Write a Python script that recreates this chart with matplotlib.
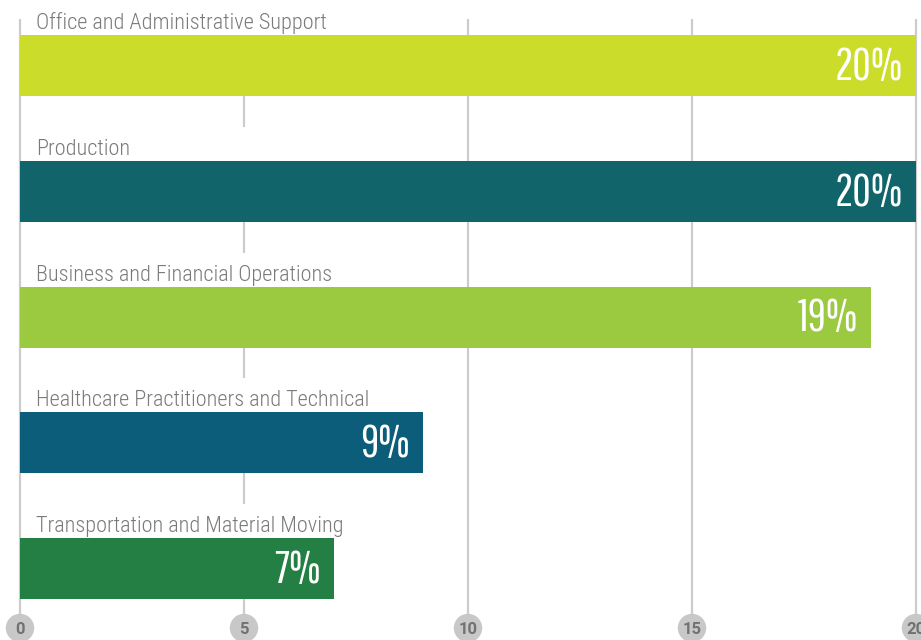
import matplotlib
matplotlib.use("Agg")
import matplotlib.pyplot as plt
from matplotlib.patches import Rectangle

categories = [
    "Office and Administrative Support",
    "Production",
    "Business and Financial Operations",
    "Healthcare Practitioners and Technical",
    "Transportation and Material Moving",
]
values = [20, 20, 19, 9, 7]
value_labels = ["20%", "20%", "19%", "9%", "7%"]
xticks = [0, 5, 10, 15, 20]

bar_colors = ["#cbdc2a", "#10646a", "#9bc93f", "#0b5d7a", "#247f45"]

LABEL_FONT = dict(family=["Roboto Condensed", "DejaVu Sans"], weight=300)
VALUE_FONT = dict(family=["Pathway Gothic One", "Roboto Condensed", "DejaVu Sans"], weight=400)
TICK_FONT = dict(family=["Roboto", "DejaVu Sans"], weight=700)

W, H = 921, 640
fig = plt.figure(figsize=(W / 100, H / 100), dpi=100)
ax = fig.add_axes([0, 0, 1, 1])
renderer = fig.canvas.get_renderer()


def fit_size(text, target_px, base, **font):
    t = fig.text(0, 0, text, fontsize=base, **font)
    w = t.get_window_extent(renderer).width
    t.remove()
    return base * target_px / w


label_size = fit_size(categories[0], 291, 15, **LABEL_FONT)
value_size = fit_size("20%", 68, 30, **VALUE_FONT)

px_per_x = 44.8
x0_px = 20
row_px = 125.75
first_center_px = 65.5
ax.set_xlim(-x0_px / px_per_x, (W - x0_px) / px_per_x)
ax.set_ylim((H - first_center_px) / row_px, -first_center_px / row_px)
ax.axis("off")

bar_h = 61 / row_px
top_grid = (19 - first_center_px) / row_px
bot_grid = (614 - first_center_px) / row_px
tick_y = (628 - first_center_px) / row_px

# gridlines
for t in xticks:
    ax.plot([t, t], [top_grid, bot_grid], color="#cccccc", lw=1.6, zorder=1,
            solid_capstyle="butt")

ypos = list(range(len(categories)))
ax.barh(ypos, values, height=bar_h, color=bar_colors, zorder=3, left=0)

label_gap = 34 / row_px
for i, (cat, v, vl) in enumerate(zip(categories, values, value_labels)):
    top = i - bar_h / 2
    # white band behind category label hides nearby gridlines
    ax.add_patch(Rectangle((0.1, top - label_gap), 8.5, label_gap,
                           facecolor="white", edgecolor="none", zorder=2))
    ax.text(16 / px_per_x, top - 6 / row_px, cat, fontsize=label_size,
            color="#7a7a7a", va="baseline", ha="left", zorder=4, **LABEL_FONT)
    ax.text(v - 13 / px_per_x, i + 2 / row_px, vl, fontsize=value_size,
            color="white", va="center", ha="right", zorder=4, **VALUE_FONT)

# tick bubbles
ax.scatter(xticks, [tick_y] * len(xticks), s=420, color="#c8c8c9",
           edgecolors="none", zorder=3, clip_on=False)
for t in xticks:
    ax.text(t, tick_y + 1 / row_px, str(t), fontsize=12, color="#717171",
            ha="center", va="center", zorder=4, **TICK_FONT)

fig.savefig("out.png", dpi=100)
